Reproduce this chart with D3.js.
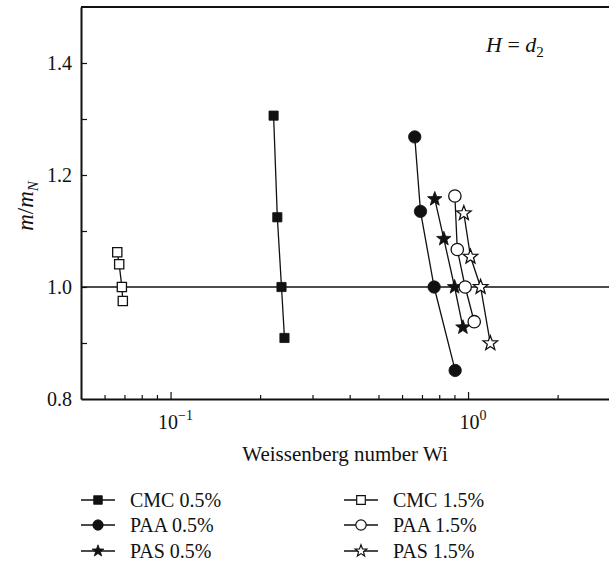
<!DOCTYPE html>
<html lang="en">
<head>
  <meta charset="UTF-8">
  <title>m/mN vs Weissenberg number</title>
  <script src="https://d3js.org/d3.v7.min.js"></script>
  <style type="text/css">
    body { margin: 0; background: #fff; }
    text {
      font-family: "Liberation Serif", "DejaVu Serif", serif;
      font-size: 20px;
      fill: #111;
    }
    .axis path, .axis line { stroke: #111; }
  </style>
</head>
<body>
<div id="chart-container"></div>

<script>
// data
const seriesNames = ["CMC 0.5%", "PAA 0.5%", "PAS 0.5%", "CMC 1.5%", "PAA 1.5%", "PAS 1.5%"];

const cmc05_wi = [0.222, 0.2285, 0.236, 0.2415];
const cmc05_m  = [1.306, 1.1245, 1.0, 0.909];

const paa05_wi = [0.662, 0.692, 0.769, 0.905];
const paa05_m  = [1.268, 1.135, 1.0, 0.851];

const pas05_wi = [0.773, 0.829, 0.901, 0.961];
const pas05_m  = [1.157, 1.086, 1.0, 0.928];

const cmc15_wi = [0.0662, 0.0672, 0.0686, 0.0691];
const cmc15_m  = [1.062, 1.0405, 1.0, 0.975];

const paa15_wi = [0.903, 0.920, 0.978, 1.049];
const paa15_m  = [1.1625, 1.067, 1.0, 0.938];

const pas15_wi = [0.968, 1.019, 1.102, 1.188];
const pas15_m  = [1.1316, 1.054, 1.0, 0.8995];

const xMajorTicks = [0.1, 1];
const xMinorTicks = [0.06, 0.07, 0.08, 0.09, 0.2, 0.3, 0.4, 0.5, 0.6, 0.7, 0.8, 0.9, 2, 3];
const xTickExp = ["\u22121", "0"];
const yTicks = [0.9, 1.0, 1.1, 1.2, 1.3, 1.4];
const yTickLabels = [0.8, 1.0, 1.2, 1.4];

// build series table
const series = [
  { name: seriesNames[0], shape: "square", filled: true,  wi: cmc05_wi, m: cmc05_m },
  { name: seriesNames[1], shape: "circle", filled: true,  wi: paa05_wi, m: paa05_m },
  { name: seriesNames[2], shape: "star",   filled: true,  wi: pas05_wi, m: pas05_m },
  { name: seriesNames[3], shape: "square", filled: false, wi: cmc15_wi, m: cmc15_m },
  { name: seriesNames[4], shape: "circle", filled: false, wi: paa15_wi, m: paa15_m },
  { name: seriesNames[5], shape: "star",   filled: false, wi: pas15_wi, m: pas15_m }
];

const W = 609, H = 563;
const svg = d3.select("#chart-container")
  .append("svg")
  .attr("width", W)
  .attr("height", H);

const plotLeft = 81, plotTop = 7, plotBottom = 399;

var xScale = d3.scaleLog()
  .domain([0.05, 3])
  .range([plotLeft, 610]);

var yScale = d3.scaleLinear()
  .domain([0.8, 1.5])
  .range([plotBottom, plotTop]);

// marker path generator (r = half width)
function markerPath(shape, r) {
  if (shape === "square") {
    return `M${-r},${-r}H${r}V${r}H${-r}Z`;
  }
  if (shape === "circle") {
    return `M${r},0A${r},${r} 0 1,1 ${-r},0A${r},${r} 0 1,1 ${r},0Z`;
  }
  // five point star
  const pts = [];
  const ri = r * 0.42;
  for (let i = 0; i < 10; i++) {
    const a = -Math.PI / 2 + i * Math.PI / 5;
    const rr = i % 2 === 0 ? r : ri;
    pts.push([rr * Math.cos(a), rr * Math.sin(a)]);
  }
  return "M" + pts.map(p => p[0].toFixed(2) + "," + p[1].toFixed(2)).join("L") + "Z";
}
const plotSize = { square: 4.6, circle: 6.2, star: 7.6 };
const legendSize = { square: 4.3, circle: 5.2, star: 6.2 };

svg.append("clipPath").attr("id", "plot-clip")
  .append("rect").attr("x", plotLeft).attr("y", plotTop - 1)
  .attr("width", W - plotLeft).attr("height", plotBottom - plotTop + 2);

// x axis (ticks point inward)
svg.append("g")
  .attr("class", "axis")
  .attr("transform", `translate(0,${plotBottom})`)
  .call(d3.axisBottom(xScale).tickValues(xMinorTicks).tickSize(-4).tickSizeOuter(0).tickFormat(""))
  .call(g => g.select(".domain").attr("stroke-width", 2))
  .call(g => g.selectAll(".tick line").attr("stroke-width", 1.2));

svg.append("g")
  .attr("class", "axis")
  .attr("transform", `translate(0,${plotBottom})`)
  .call(d3.axisBottom(xScale).tickValues(xMajorTicks).tickSize(-7).tickSizeOuter(0).tickFormat(""))
  .call(g => g.select(".domain").remove())
  .call(g => g.selectAll(".tick line").attr("stroke-width", 1.2));

// x tick labels with superscripts
const xLab = svg.selectAll(".x-label")
  .data(xMajorTicks)
  .enter()
  .append("text")
  .attr("class", "x-label")
  .attr("x", d => xScale(d) + 5)
  .attr("y", plotBottom + 30)
  .attr("text-anchor", "middle");
xLab.append("tspan").text("10");
xLab.append("tspan")
  .attr("dy", -9)
  .style("font-size", "14px")
  .text((d, i) => xTickExp[i]);

// y axis
svg.append("g")
  .attr("class", "axis")
  .attr("transform", `translate(${plotLeft},0)`)
  .call(d3.axisLeft(yScale).tickValues(yTicks).tickSize(-6).tickSizeOuter(0).tickFormat(""))
  .call(g => g.select(".domain").attr("stroke-width", 2))
  .call(g => g.selectAll(".tick line").attr("stroke-width", 1.2));

svg.selectAll(".y-label")
  .data(yTickLabels)
  .enter()
  .append("text")
  .attr("class", "y-label")
  .attr("x", plotLeft - 9)
  .attr("y", d => yScale(d))
  .attr("dy", "0.35em")
  .attr("text-anchor", "end")
  .text(d => d.toFixed(1));

// top border
svg.append("line")
  .attr("x1", plotLeft).attr("x2", W)
  .attr("y1", yScale(1.5)).attr("y2", yScale(1.5))
  .attr("stroke", "#111").attr("stroke-width", 2);

// reference line m/mN = 1
svg.append("line")
  .attr("x1", plotLeft).attr("x2", W)
  .attr("y1", yScale(1.0)).attr("y2", yScale(1.0))
  .attr("stroke", "#111").attr("stroke-width", 1.4);

// series
const plot = svg.append("g").attr("clip-path", "url(#plot-clip)");
const line = d3.line().x(d => xScale(d[0])).y(d => yScale(d[1]));

series.forEach(s => {
  const pts = s.wi.map((w, i) => [w, s.m[i]]);
  plot.append("path")
    .datum(pts)
    .attr("d", line)
    .attr("fill", "none")
    .attr("stroke", "#111")
    .attr("stroke-width", 1.3);
});

series.forEach(s => {
  const pts = s.wi.map((w, i) => [w, s.m[i]]);
  plot.selectAll(null)
    .data(pts)
    .enter()
    .append("path")
    .attr("transform", d => `translate(${xScale(d[0])},${yScale(d[1])})`)
    .attr("d", markerPath(s.shape, plotSize[s.shape]))
    .attr("fill", s.filled ? "#111" : "#fff")
    .attr("stroke", "#111")
    .attr("stroke-width", s.filled ? 0.8 : 1.3);
});

// annotation H = d2
const ann = svg.append("text")
  .attr("x", 486)
  .attr("y", 52)
  .style("font-size", "22px");
ann.append("tspan").style("font-style", "italic").text("H");
ann.append("tspan").text(" = ");
ann.append("tspan").style("font-style", "italic").text("d");
ann.append("tspan").attr("dy", 5).style("font-size", "15px").text("2");

// axis titles
svg.append("text")
  .attr("x", 345)
  .attr("y", 461)
  .attr("text-anchor", "middle")
  .style("font-size", "21px")
  .text("Weissenberg number Wi");

const yTitle = svg.append("text")
  .attr("transform", "translate(33,206) rotate(-90)")
  .attr("text-anchor", "middle")
  .style("font-size", "23px");
yTitle.append("tspan").style("font-style", "italic").text("m");
yTitle.append("tspan").text("/");
yTitle.append("tspan").style("font-style", "italic").text("m");
yTitle.append("tspan").attr("dy", 5).style("font-size", "15px").style("font-style", "italic").text("N");

// legend
const legendCols = [{ x1: 81, x2: 115, tx: 130 }, { x1: 344, x2: 378, tx: 393 }];
const legendRows = [500, 525, 551];

const leg = svg.selectAll(".legend")
  .data(series)
  .enter()
  .append("g")
  .attr("class", "legend")
  .attr("transform", (d, i) => `translate(0,${legendRows[i % 3]})`);

leg.append("line")
  .attr("x1", (d, i) => legendCols[Math.floor(i / 3)].x1)
  .attr("x2", (d, i) => legendCols[Math.floor(i / 3)].x2)
  .attr("stroke", "#111")
  .attr("stroke-width", 1.3);

leg.append("path")
  .attr("transform", (d, i) => {
    const c = legendCols[Math.floor(i / 3)];
    return `translate(${(c.x1 + c.x2) / 2},0)`;
  })
  .attr("d", d => markerPath(d.shape, legendSize[d.shape]))
  .attr("fill", d => d.filled ? "#111" : "#fff")
  .attr("stroke", "#111")
  .attr("stroke-width", d => d.filled ? 0.8 : 1.2);

leg.append("text")
  .attr("x", (d, i) => legendCols[Math.floor(i / 3)].tx)
  .attr("dy", "0.35em")
  .text(d => d.name);
</script>

</body>
</html>
